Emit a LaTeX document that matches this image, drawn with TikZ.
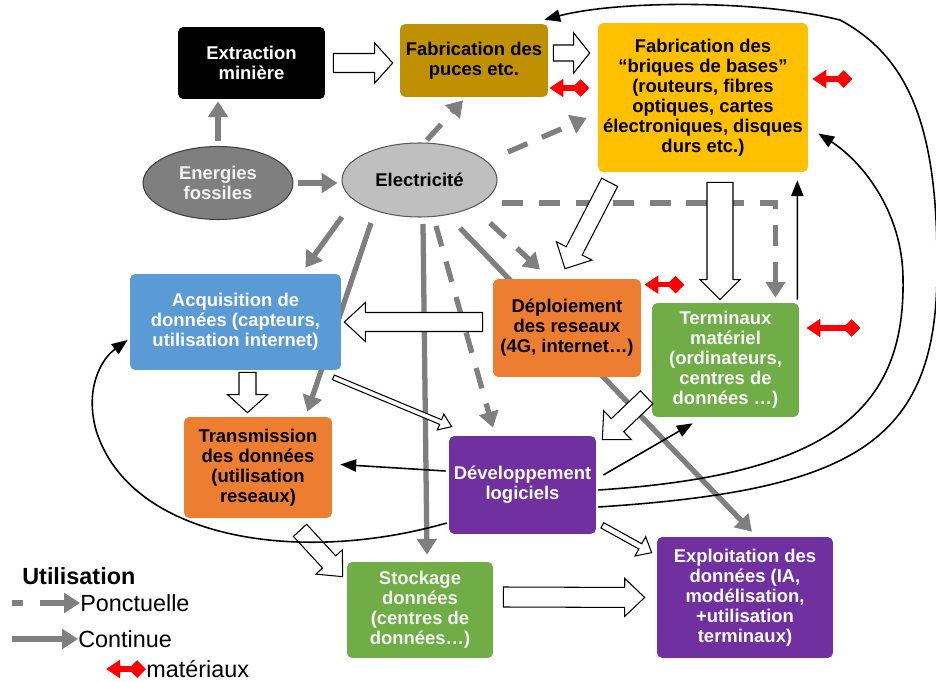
\documentclass[tikz,border=0pt]{standalone}
\usepackage{fontspec}
\setmainfont{Liberation Sans}
\usepackage{tikz}
\usetikzlibrary{calc}
\usetikzlibrary{positioning}
\usetikzlibrary{arrows.meta,shapes.geometric,backgrounds}

\definecolor{gold}{HTML}{BF9000}
\definecolor{amber}{HTML}{FFC000}
\definecolor{skyblue}{HTML}{5B9BD5}
\definecolor{carrot}{HTML}{ED7D31}
\definecolor{leaf}{HTML}{70AD47}
\definecolor{plum}{HTML}{7030A0}
\definecolor{arrgray}{HTML}{7F7F7F}
\definecolor{fossgray}{HTML}{7F7F7F}
\definecolor{elecgray}{HTML}{BFBFBF}

% hollow block arrow: start, end, shaft half width, head half width, head length
\newcommand{\fatarrow}[5]{%
  \coordinate (fa-s) at (#1);
  \coordinate (fa-e) at (#2);
  \coordinate (fa-h) at ($(fa-e)!#5!(fa-s)$);
  \draw[hollow] ($(fa-s)!#3!90:(fa-e)$) -- ($(fa-h)!#3!90:(fa-e)$) -- ($(fa-h)!#4!90:(fa-e)$)
    -- (fa-e) -- ($(fa-h)!#4!-90:(fa-e)$) -- ($(fa-h)!#3!-90:(fa-e)$) -- ($(fa-s)!#3!-90:(fa-e)$) -- cycle;
}

\tikzset{
  box/.style={rounded corners=3pt, align=center, inner sep=1pt,
    font=\fontsize{10.5}{11.4}\selectfont\bfseries},
  oval/.style={ellipse, draw, line width=0.6pt, align=center, inner sep=0pt,
    font=\fontsize{10.5}{11.4}\selectfont\bfseries},
  hollow/.style={draw=black, fill=white, line width=0.6pt, line join=miter},
  contin/.style={draw=arrgray, line width=3pt, -{Triangle[length=9pt,width=11pt]}},
  ponct/.style={contin, dash pattern=on 12pt off 9pt},
  feedback/.style={line width=0.9pt, -{Triangle[length=9pt,width=7pt]}},
  mat/.style={draw=red, line width=3pt, {Triangle[length=8pt,width=10pt]}-{Diamond[length=10pt,width=10pt]}},
  legend/.style={anchor=west, inner sep=0pt, font=\fontsize{13.3}{15}\selectfont}
}

\begin{document}
\begin{tikzpicture}[x=0.02cm,y=-0.02cm]
  \useasboundingbox (0,0) rectangle (936,682);

  \node[box, fill=black, text=white, minimum width=2.94cm, minimum height=1.44cm] (extr) at (251.5,63) {Extraction\\minière};
  \node[box, fill=gold, minimum width=2.96cm, minimum height=1.46cm] (puces) at (474,60.5) {Fabrication des\\puces etc.};
  \node[box, fill=amber, minimum width=4.2cm, minimum height=2.98cm] (briques) at (703,97.5)
    {Fabrication des\\“briques de bases”\\(routeurs, fibres\\optiques, cartes\\électroniques, disques\\durs etc.)};
  \node[oval, fill=fossgray, draw=black!75, text=black!5, minimum width=3cm, minimum height=1.46cm] (fossil) at (218,183) {Energies\\fossiles};
  \node[oval, fill=elecgray, draw=black!65, minimum width=3.1cm, minimum height=1.48cm] (elec) at (419.5,180) {Electricité};
  \node[box, fill=skyblue, text=white, minimum width=4.22cm, minimum height=1.92cm] (acq) at (235.5,322)
    {Acquisition de\\données (capteurs,\\utilisation internet)};
  \node[box, fill=carrot, minimum width=2.96cm, minimum height=1.96cm] (depl) at (567,328) {Déploiement\\des reseaux\\(4G, internet…)};
  \node[box, fill=leaf, text=black!3, minimum width=2.94cm, minimum height=2.28cm] (term) at (725.5,360)
    {Terminaux\\matériel\\(ordinateurs,\\centres de\\données …)};
  \node[box, fill=carrot, minimum width=2.96cm, minimum height=2.02cm] (trans) at (258,467.5) {Transmission\\des données\\(utilisation\\reseaux)};
  \node[box, fill=plum, text=white, minimum width=2.94cm, minimum height=1.96cm] (dev) at (522.5,485) {Développement\\logiciels};
  \node[box, fill=leaf, text=black!5, minimum width=2.92cm, minimum height=1.92cm] (stock) at (420,610) {Stockage\\données\\(centres de\\données…)};
  \node[box, fill=plum, text=white, minimum width=3.52cm, minimum height=2.42cm] (expl) at (745,597.5)
    {Exploitation des\\données (IA,\\modélisation,\\+utilisation\\terminaux)};

  % energy flows, behind the boxes
  \begin{scope}[on background layer]
    \draw[contin] ($(fossil.north)+(0,-5)$) -- ($(extr.south -| fossil.north)+(0,2)$);
    \draw[contin] ($(fossil.east)+(4,0)$) -- ($(fossil.east -| elec.west)+(-4,0)$);
    \draw[contin] ($(elec)+(-77.5,37)$) -- ($(acq.north east)+(-36,-6)$);
    \draw[contin] ($(elec)+(-48.5,43)$) -- ($(trans.north east)+(-25,-5)$);
    \draw[contin] ($(elec)+(3.5,44)$) -- ($(stock.north)+(7,-7)$);
    \draw[contin] ($(elec)+(40.5,48)$) -- ($(expl.north)+(7,-5)$);
    \draw[ponct] ($(elec)+(7.5,-40)$) -- ($(puces.south)+(-11,3)$);
    \draw[ponct] ($(elec)+(88.5,-28)$) -- ($(briques.west)+(-11,20.5)$);
    \draw[ponct] ($(elec)+(82.5,23)$) -| ($(term.north)+(50,-5)$);
    \draw[ponct] ($(elec)+(70.5,43)$) -- ($(depl.north)+(-27,-9)$);
    \draw[ponct] ($(elec)+(16.5,46)$) -- ($(dev.north)+(-29.5,-8)$);
  \end{scope}

  \fatarrow{$(extr.east)+(8,0)$}{$(puces.west)+(-7,2.5)$}{0.19cm}{0.4cm}{0.36cm}
  \fatarrow{$(puces.east)+(5,-7.5)$}{$(briques.west)+(-8,-44.5)$}{0.16cm}{0.4cm}{0.32cm}
  \fatarrow{$(briques.south west)+(12,10)$}{$(depl.north)+(-2,-10)$}{0.18cm}{0.4cm}{0.4cm}
  \fatarrow{$(briques.south)+(17,10)$}{$(term.north)+(-5.5,-3)$}{0.26cm}{0.4cm}{0.4cm}
  \fatarrow{$(depl.west)+(-10,-6)$}{$(acq.east)+(3,0)$}{0.19cm}{0.39cm}{0.42cm}
  \fatarrow{$(acq.south)+(12,2)$}{$(trans.north)+(-10.5,-4)$}{0.17cm}{0.4cm}{0.36cm}
  \fatarrow{$(acq.south east)+(-8,7)$}{$(dev.north west)+(3,-9)$}{0.05cm}{0.17cm}{0.24cm}
  \fatarrow{$(term.south west)+(-5,-20)$}{$(dev.north east)+(6,4)$}{0.18cm}{0.4cm}{0.42cm}
  \fatarrow{$(trans.south)+(42,12)$}{$(stock.north west)+(-4,15)$}{0.18cm}{0.36cm}{0.4cm}
  \fatarrow{$(dev.south east)+(6,-9)$}{$(expl.north west)+(-5,16)$}{0.06cm}{0.22cm}{0.26cm}
  \fatarrow{$(stock.east)+(10,-13)$}{$(expl.west)+(-12,0)$}{0.2cm}{0.38cm}{0.4cm}

  % feedback from software
  \draw[feedback] ($(dev.west)+(-3,-14)$) -- ($(trans.east)+(8,-3)$);
  \draw[feedback] ($(dev.east)+(7,-10)$) -- ($(term.south west)+(41,6)$);
  \draw[feedback] ($(term.north east)+(-2,-3)$) -- ($(briques.south east)+(-11,8)$);
  \draw[feedback] ($(dev.east)+(2,22)$) .. controls (860,490) and (940,440) .. (937,260)
    .. controls (937,120) and (905,55) .. (840,20) .. controls (760,0) and (620,0) .. ($(puces.north east)+(-4,-4)$);
  \draw[feedback] ($(dev.east)+(2,5)$) .. controls (830,475) and (905,410) .. (903,280)
    .. controls (903,210) and (860,160) .. ($(briques.east)+(10,36)$);
  \draw[feedback] ($(dev.west)+(-2,38)$) .. controls (300,565) and (130,540) .. (96,430)
    .. controls (85,390) and (100,360) .. ($(acq.west)+(-2,18)$);

  % materials
  \draw[mat] ($(puces.east)+(1,27.5)$) -- ++(40,0);
  \draw[mat] ($(briques.east)+(4,-18.5)$) -- ++(40,0);
  \draw[mat] ($(depl.north east)+(3,6)$) -- ++(40,0);
  \draw[mat] ($(term.east)+(7,-32)$) -- ++(54,0);

  % legend
  \node[legend, font=\fontsize{13.3}{15}\selectfont\bfseries] (legtitle) at (22,576) {Utilisation};
  \node[legend] (ponctlbl) at (80,603) {Ponctuelle};
  \node[legend] (contlbl) at (78,639) {Continue};
  \node[legend] (matlbl) at (146,669) {matériaux};
  \draw[ponct, dash pattern=on 6pt off 10pt on 20pt] ($(ponctlbl.west)+(-68,0)$) -- (ponctlbl.west);
  \draw[contin] ($(contlbl.west)+(-66,0)$) -- (contlbl.west);
  \draw[mat] ($(matlbl.west)+(-40,0)$) -- (matlbl.west);
\end{tikzpicture}
\end{document}
